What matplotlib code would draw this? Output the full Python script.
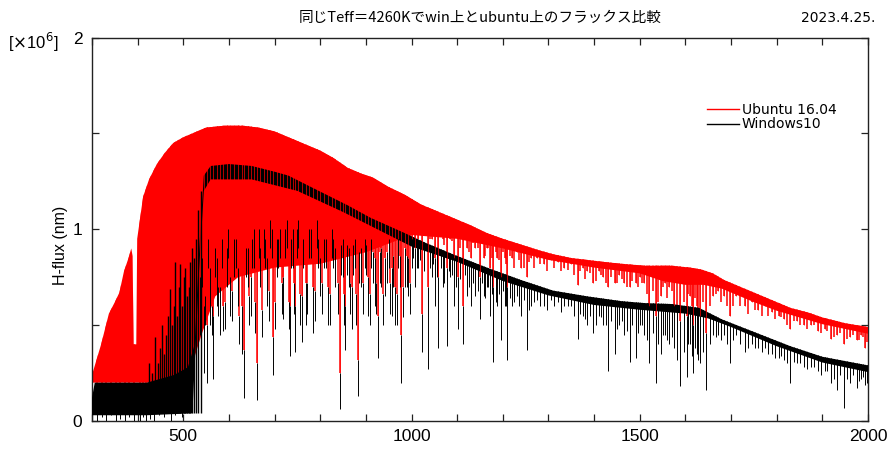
import numpy as np
import matplotlib
matplotlib.use("Agg")
import matplotlib.pyplot as plt
from matplotlib.patches import Polygon
from matplotlib.ticker import MultipleLocator

plt.rcParams['font.family'] = ['Liberation Sans', 'DejaVu Sans']

# --- Ubuntu 16.04 (red): upper continuum and lower edge of the dense line forest
ubu_wl = [300, 320, 337, 350, 360, 370, 380, 386, 389, 391, 397, 399, 412, 425, 442,
          460, 478, 500, 520, 550, 590, 630, 665, 700, 730, 760, 800, 830, 860, 890,
          915, 950, 985, 1020, 1060, 1090, 1130, 1165, 1200, 1240, 1280, 1310, 1350,
          1385, 1420, 1460, 1510, 1570, 1610, 1635, 1660, 1685, 1720, 1760, 1800,
          1830, 1870, 1900, 1950, 2000]
ubu_top = [0.24, 0.40, 0.56, 0.62, 0.67, 0.78, 0.85, 0.90, 0.86, 0.40, 0.40, 0.95,
           1.17, 1.26, 1.34, 1.40, 1.45, 1.48, 1.50, 1.53, 1.54, 1.54, 1.53, 1.51,
           1.48, 1.45, 1.41, 1.37, 1.32, 1.29, 1.27, 1.22, 1.18, 1.13, 1.09, 1.06,
           1.02, 0.98, 0.95, 0.92, 0.89, 0.87, 0.85, 0.84, 0.83, 0.82, 0.81, 0.81,
           0.80, 0.79, 0.77, 0.735, 0.70, 0.66, 0.62, 0.59, 0.565, 0.54, 0.51, 0.49]
ubu_floor_wl = [300, 500, 520, 540, 570, 620, 700, 800, 900, 1000, 1100, 1200,
                1300, 1400, 1500, 1550, 1600, 1640, 1680, 1750, 1800, 1900, 2000]
ubu_floor = [0.20, 0.20, 0.30, 0.45, 0.65, 0.75, 0.80, 0.82, 0.88, 0.97, 0.95,
             0.90, 0.84, 0.80, 0.77, 0.73, 0.71, 0.71, 0.69, 0.62, 0.575, 0.505, 0.455]

# --- Windows10 (black)
win_wl = [300, 306, 420, 450, 480, 510, 525, 535, 545, 560, 600, 650, 700, 730, 780,
          860, 910, 985, 1030, 1090, 1165, 1240, 1310, 1385, 1460, 1510, 1570, 1630,
          1680, 1755, 1830, 1900, 2000]
win_top = [0.12, 0.20, 0.20, 0.22, 0.24, 0.28, 0.40, 0.90, 1.28, 1.33, 1.34, 1.33,
           1.30, 1.28, 1.22, 1.125, 1.06, 0.98, 0.93, 0.87, 0.80, 0.735, 0.68, 0.65,
           0.625, 0.615, 0.61, 0.59, 0.53, 0.46, 0.39, 0.335, 0.29]
win_floor_wl = [300, 420, 520, 535, 545, 560, 650, 750, 850, 1000, 1100, 1200, 1300,
                1400, 1500, 1600, 1650, 1700, 1800, 1900, 2000]
win_floor = [0.03, 0.03, 0.04, 0.80, 1.20, 1.26, 1.26, 1.20, 1.09, 0.91, 0.83, 0.73,
             0.655, 0.605, 0.58, 0.56, 0.535, 0.49, 0.39, 0.305, 0.255]

# spikes of the Windows spectrum in the strongly absorbed blue part
win_spike_wl = [425, 431, 438, 444, 449, 453, 458, 463, 467, 471, 476, 479, 482, 486,
                490, 493, 497, 501, 504, 508, 512, 515, 520, 524, 528, 533, 538]
win_spike_top = [0.30, 0.25, 0.44, 0.30, 0.38, 0.50, 0.35, 0.45, 0.55, 0.69, 0.50,
                 0.60, 0.83, 0.55, 0.70, 0.82, 0.60, 0.75, 0.80, 0.65, 0.70, 0.83,
                 0.90, 0.85, 0.95, 1.10, 1.20]

# strong absorption lines: wavelength, minimum of Ubuntu flux, minimum of Windows flux
line_wl = [312, 323, 331, 342, 353, 361, 372, 380, 392, 405, 411, 418, 426, 436, 446,
           457, 466, 474, 481, 489, 497, 506, 516,
           528, 537, 545, 551, 558, 566, 573, 580, 588, 595, 603, 611, 619, 628, 633,
           641, 648, 655, 661, 669, 676, 684, 690, 697, 705, 712, 719, 727, 734, 740,
           745, 752, 759, 768, 776, 785, 792, 800, 808, 817, 825, 833, 843, 849, 854,
           862, 869, 876, 883, 890, 898, 905, 912, 919, 927, 934, 942, 950, 957, 964,
           971, 978, 986, 993, 1000,
           1008, 1015, 1022, 1035, 1045, 1052, 1059, 1068, 1077, 1085, 1093, 1102,
           1113, 1122, 1130, 1140, 1150, 1158, 1165, 1172, 1179, 1188, 1197, 1204,
           1210, 1220, 1230, 1240, 1253, 1262, 1275, 1290, 1305, 1320, 1335, 1350,
           1365, 1375, 1385, 1398, 1410, 1420, 1431, 1445, 1455, 1465, 1478, 1491,
           1500, 1510, 1521, 1535, 1546, 1555, 1565, 1575, 1589, 1603, 1610, 1617,
           1625, 1632, 1646, 1660, 1672, 1685, 1697, 1710, 1730, 1745, 1760, 1775,
           1790, 1805, 1815, 1829, 1845, 1860, 1875, 1890, 1905, 1918, 1931, 1947,
           1960, 1975, 1985, 1993]
ubu_line_min = [0.2] * 23 + [
    0.55, 0.75, 0.60, 0.50, 0.80, 0.55, 0.85, 0.70, 0.60, 0.90, 0.75, 0.95, 0.80,
    0.60, 0.37, 0.90, 0.75, 1.00, 0.30, 0.90, 1.00, 0.85, 1.05, 0.44, 0.95, 1.00,
    0.75, 1.05, 0.60, 1.00, 0.60, 1.05, 0.65, 0.72, 1.00, 0.70, 1.05, 0.85, 0.95,
    0.70, 1.00, 0.90, 0.25, 0.95, 0.60, 0.90, 0.70, 0.95, 0.32, 0.90, 0.95, 0.75,
    0.95, 0.85, 0.55, 0.90, 0.85, 0.95, 0.80, 0.70, 0.95, 0.45, 0.90, 0.85, 0.95,
    0.90, 0.95, 0.56, 0.70, 0.95, 0.85, 0.75, 0.95, 0.80, 0.95, 0.85, 0.75, 0.60,
    0.90, 0.85, 0.90, 0.75, 0.85, 0.90, 0.80, 0.70, 0.85, 0.75, 0.85, 0.70, 0.85,
    0.88, 0.80, 0.75, 0.85, 0.85, 0.82, 0.84, 0.83, 0.80, 0.82, 0.71, 0.80, 0.78,
    0.72, 0.78, 0.75, 0.70, 0.72, 0.76, 0.72, 0.70, 0.72, 0.75, 0.72, 0.60, 0.55,
    0.65, 0.72, 0.70, 0.60, 0.52, 0.55, 0.65, 0.50, 0.60, 0.55, 0.46, 0.65, 0.68,
    0.65, 0.55, 0.65, 0.60, 0.62, 0.58, 0.60, 0.57, 0.55, 0.53, 0.48, 0.52, 0.50,
    0.50, 0.47, 0.48, 0.43, 0.45, 0.40, 0.44, 0.42, 0.45, 0.38]
win_line_min = [0.00, 0.02, 0.00, 0.03, 0.00, 0.01, 0.00, 0.02, 0.00, 0.00, 0.02,
                0.00, 0.01, 0.00, 0.03, 0.02, 0.05, 0.00, 0.03, 0.04, 0.02, 0.06, 0.05,
    0.15, 0.45, 0.25, 0.20, 0.50, 0.22, 0.60, 0.45, 0.47, 0.70, 0.55, 0.75, 0.60,
    0.35, 0.12, 0.70, 0.55, 0.80, 0.11, 0.70, 0.85, 0.60, 0.90, 0.24, 0.75, 0.85,
    0.53, 0.90, 0.34, 0.80, 0.36, 0.90, 0.41, 0.50, 0.85, 0.46, 0.90, 0.65, 0.80,
    0.50, 0.85, 0.70, 0.06, 0.75, 0.37, 0.70, 0.48, 0.80, 0.13, 0.70, 0.80, 0.55,
    0.80, 0.60, 0.33, 0.70, 0.65, 0.80, 0.55, 0.50, 0.80, 0.20, 0.70, 0.65, 0.80,
    0.70, 0.80, 0.36, 0.27, 0.75, 0.60, 0.38, 0.70, 0.39, 0.75, 0.60, 0.48, 0.40,
    0.65, 0.60, 0.65, 0.53, 0.65, 0.70, 0.55, 0.31, 0.60, 0.42, 0.60, 0.32, 0.60,
    0.65, 0.55, 0.37, 0.60, 0.63, 0.60, 0.63, 0.62, 0.60, 0.60, 0.43, 0.55, 0.50,
    0.46, 0.55, 0.50, 0.26, 0.35, 0.50, 0.45, 0.31, 0.33, 0.50, 0.45, 0.30, 0.20,
    0.35, 0.45, 0.40, 0.38, 0.18, 0.23, 0.40, 0.25, 0.35, 0.30, 0.16, 0.45, 0.45,
    0.45, 0.30, 0.45, 0.36, 0.40, 0.38, 0.38, 0.35, 0.33, 0.32, 0.20, 0.30, 0.28,
    0.28, 0.26, 0.26, 0.20, 0.16, 0.07, 0.20, 0.17, 0.22, 0.19]

# weaker lines of the forest
weak_wl = [524, 532, 541, 548, 555, 562, 569, 577, 584, 592, 599, 607, 615, 623, 637,
           644, 651, 658, 665, 672, 680, 687, 694, 701, 708, 716, 723, 731, 737, 743,
           749, 755, 763, 772, 780, 788, 796, 804, 812, 821, 829, 838, 846, 851, 858,
           865, 872, 879, 886, 894, 901, 908, 915, 923, 930, 938, 946, 953, 960, 968,
           975, 982, 989, 996,
           1004, 1012, 1018, 1028, 1040, 1048, 1056, 1064, 1072, 1081, 1089, 1097,
           1107, 1117, 1126, 1135, 1145, 1154, 1162, 1168, 1176, 1184, 1192, 1200,
           1207, 1215, 1225, 1235, 1246, 1258, 1268, 1282, 1297, 1312, 1327, 1342,
           1357, 1370, 1380, 1392, 1404, 1415, 1426, 1438, 1450, 1460, 1471, 1484,
           1496, 1505, 1515, 1528, 1540, 1550, 1560, 1570, 1582, 1596, 1606, 1614,
           1621, 1628, 1638, 1653, 1666, 1678, 1691, 1704, 1720, 1737, 1752, 1767,
           1782, 1797, 1810, 1822, 1837, 1852, 1867, 1882, 1897, 1911, 1925, 1939,
           1954, 1968, 1980, 1990, 1997]
ubu_weak_min = [
    0.75, 0.55, 0.85, 0.65, 0.95, 0.60, 0.90, 0.70, 0.95, 0.62, 1.00, 0.68, 0.95,
    0.55, 0.90, 0.65, 0.95, 0.62, 1.00, 0.58, 0.95, 0.68, 1.00, 0.62, 0.95, 0.72,
    1.00, 0.62, 0.95, 0.72, 1.00, 0.66, 0.95, 0.72, 1.00, 0.68, 0.95, 0.72, 0.95,
    0.66, 0.95, 0.72, 0.92, 0.66, 0.92, 0.72, 0.92, 0.66, 0.88, 0.72, 0.92, 0.66,
    0.88, 0.72, 0.88, 0.66, 0.88, 0.72, 0.86, 0.66, 0.86, 0.70, 0.86, 0.72,
    1.02, 1.05, 0.98, 1.00, 0.95, 1.02, 0.96, 1.00, 0.92, 0.98, 0.94, 0.99, 0.90,
    0.95, 0.88, 0.93, 0.90, 0.94, 0.86, 0.90, 0.85, 0.88, 0.84, 0.88, 0.82, 0.86,
    0.80, 0.84, 0.80, 0.83, 0.80, 0.82, 0.78, 0.80, 0.78, 0.79, 0.76, 0.78, 0.74,
    0.77, 0.73, 0.76, 0.72, 0.75, 0.72, 0.74, 0.70, 0.73, 0.70, 0.72, 0.66, 0.68,
    0.62, 0.70, 0.64, 0.68, 0.58, 0.62, 0.66, 0.60, 0.64, 0.58, 0.62, 0.60, 0.66,
    0.62, 0.60, 0.60, 0.60, 0.56, 0.58, 0.55, 0.55, 0.53, 0.54, 0.50, 0.52, 0.50,
    0.48, 0.50, 0.46, 0.47, 0.44, 0.46, 0.43, 0.45, 0.42, 0.44, 0.41]
win_weak_min = [
    0.45, 0.35, 0.70, 0.50, 0.80, 0.45, 0.75, 0.55, 0.80, 0.48, 0.85, 0.52, 0.80,
    0.40, 0.75, 0.50, 0.80, 0.46, 0.85, 0.44, 0.80, 0.52, 0.85, 0.48, 0.80, 0.56,
    0.85, 0.48, 0.80, 0.56, 0.85, 0.50, 0.80, 0.56, 0.85, 0.52, 0.80, 0.56, 0.80,
    0.50, 0.80, 0.56, 0.76, 0.50, 0.76, 0.56, 0.76, 0.50, 0.72, 0.56, 0.76, 0.50,
    0.72, 0.56, 0.72, 0.50, 0.72, 0.56, 0.70, 0.50, 0.70, 0.54, 0.70, 0.56,
    0.85, 0.80, 0.84, 0.78, 0.80, 0.82, 0.75, 0.80, 0.72, 0.78, 0.76, 0.70, 0.74,
    0.76, 0.70, 0.72, 0.68, 0.72, 0.64, 0.70, 0.66, 0.62, 0.66, 0.68, 0.60, 0.64,
    0.62, 0.60, 0.63, 0.58, 0.62, 0.60, 0.58, 0.60, 0.57, 0.60, 0.55, 0.56, 0.53,
    0.55, 0.50, 0.54, 0.50, 0.52, 0.48, 0.52, 0.47, 0.50, 0.46, 0.50, 0.42, 0.46,
    0.40, 0.45, 0.42, 0.44, 0.32, 0.36, 0.40, 0.34, 0.38, 0.32, 0.36, 0.40, 0.44,
    0.42, 0.40, 0.42, 0.40, 0.38, 0.38, 0.36, 0.35, 0.33, 0.34, 0.30, 0.31, 0.30,
    0.27, 0.28, 0.24, 0.26, 0.22, 0.24, 0.22, 0.24, 0.21, 0.23, 0.20]

legend_labels = ["Ubuntu 16.04", "Windows10"]
title = "同じTeff＝4260Kでwin上とubuntu上のフラックス比較"
date_text = "2023.4.25."

fig = plt.figure(figsize=(8.88, 4.5), dpi=100)
ax = fig.add_axes([92 / 888, 29 / 450, 776 / 888, 383.5 / 450])


def band(wl_top, top, wl_floor, floor, color, z):
    xs = list(wl_top) + list(wl_floor)[::-1]
    ys = list(top) + list(floor)[::-1]
    ax.fill(xs, ys, color=color, lw=0, zorder=z)


def envelope(wl_top, top):
    pts = list(zip(wl_top, top)) + [(wl_top[-1], 0), (wl_top[0], 0)]
    return Polygon(pts, closed=True, transform=ax.transData)


ubu_env = envelope(ubu_wl, ubu_top)
win_env = envelope(win_wl, win_top)

all_wl = line_wl + weak_wl
all_ubu = ubu_line_min + ubu_weak_min
all_win = win_line_min + win_weak_min

# Ubuntu: dense band and its lines (cut by the red continuum)
band(ubu_wl, ubu_top, ubu_floor_wl, ubu_floor, "red", 2)
rl = ax.vlines(all_wl, all_ubu, 2.0, colors="red", lw=1.1, zorder=3)
rl.set_clip_path(ubu_env)

# Windows: dense band on top, lines continuing below the red ones
band(win_wl, win_top, win_floor_wl, win_floor, "black", 4)
# strong red lines still show through the black band
rs = ax.vlines(line_wl[23:], ubu_line_min[23:], 2.0, colors="red", lw=0.5,
               zorder=4.5)
rs.set_clip_path(ubu_env)
bl = ax.vlines(all_wl, all_win, all_ubu, colors="black", lw=0.7, zorder=5)
bl.set_clip_path(win_env)
ax.vlines(win_spike_wl, 0.04, win_spike_top, colors="black", lw=1.0, zorder=5)

# legend handles
ax.plot([], [], color="red", lw=1, label=legend_labels[0])
ax.plot([], [], color="black", lw=1, label=legend_labels[1])
ax.legend(loc="upper left", bbox_to_anchor=(0.792, 0.83), frameon=False,
          borderpad=0, borderaxespad=0, handlelength=2.3, handletextpad=0.25,
          labelspacing=0.05, prop={"family": "DejaVu Sans", "size": 10})

ax.set_xlim(300, 2000)
ax.set_ylim(0, 2)
ax.xaxis.set_major_locator(MultipleLocator(500))
ax.xaxis.set_minor_locator(MultipleLocator(100))
ax.yaxis.set_major_locator(MultipleLocator(1))
ax.yaxis.set_minor_locator(MultipleLocator(0.5))
ax.tick_params(which="both", direction="in", top=True, right=True, length=5,
               width=0.9, color="#222222", labelsize=12.5)
ax.tick_params(axis="x", pad=6)
ax.tick_params(axis="y", pad=7)
for s in ax.spines.values():
    s.set_linewidth(1.0)
    s.set_color("#222222")

fig.text(60 / 888, 1 - 245 / 450, "H-flux (nm)", rotation=90, ha="center",
         va="center", fontsize=11.5)
fig.text(8 / 888, 1 - 42 / 450, r"[$\times$10$^6$]", ha="left", va="center",
         fontsize=12)
fig.text(480 / 888, 1 - 18 / 450, title, ha="center", va="center", fontsize=10.5,
         family=["Noto Sans CJK JP", "DejaVu Sans"])
fig.text(875 / 888, 1 - 18 / 450, date_text, ha="right", va="center", fontsize=10,
         family="DejaVu Sans")

fig.savefig("out.png", dpi=100)
